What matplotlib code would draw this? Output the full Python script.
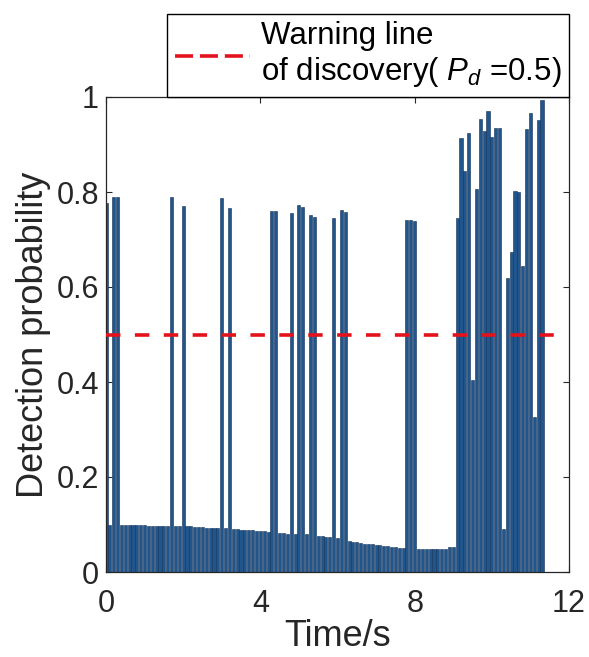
import matplotlib
matplotlib.use('Agg')
import matplotlib.pyplot as plt
from matplotlib.lines import Line2D
import numpy as np

plt.rcParams['font.family'] = ['Liberation Sans', 'DejaVu Sans']
plt.rcParams['mathtext.fontset'] = 'custom'
plt.rcParams['mathtext.it'] = 'Liberation Sans:italic'
plt.rcParams['mathtext.rm'] = 'Liberation Sans'

# detection probability per 0.1 s step, starting at t = 0
prob = [
    0.776, 0.100, 0.790, 0.790, 0.100, 0.099, 0.099, 0.099, 0.099, 0.099,
    0.098, 0.097, 0.097, 0.097, 0.097, 0.097, 0.097, 0.790, 0.097, 0.097,
    0.770, 0.096, 0.096, 0.095, 0.094, 0.094, 0.093, 0.093, 0.093, 0.093,
    0.787, 0.092, 0.767, 0.091, 0.090, 0.089, 0.089, 0.088, 0.088, 0.087,
    0.087, 0.086, 0.085, 0.760, 0.760, 0.083, 0.082, 0.081, 0.755, 0.080,
    0.773, 0.768, 0.079, 0.751, 0.748, 0.076, 0.075, 0.074, 0.073, 0.745,
    0.071, 0.762, 0.758, 0.066, 0.064, 0.063, 0.062, 0.060, 0.059, 0.058,
    0.057, 0.056, 0.055, 0.054, 0.053, 0.052, 0.051, 0.051, 0.742, 0.742,
    0.738, 0.049, 0.049, 0.049, 0.049, 0.049, 0.049, 0.049, 0.049, 0.052,
    0.052, 0.745, 0.913, 0.845, 0.925, 0.405, 0.806, 0.953, 0.929, 0.971,
    0.915, 0.935, 0.935, 0.091, 0.618, 0.674, 0.802, 0.800, 0.645, 0.933,
    0.966, 0.327, 0.951, 0.994,
]
dt = 0.1
time = np.arange(len(prob)) * dt

warn_level = 0.5
warn_span = [0, 11.7]

xticks = [0, 4, 8, 12]
yticks = [0, 0.2, 0.4, 0.6, 0.8, 1]
ytick_labels = ['0', '0.2', '0.4', '0.6', '0.8', '1']

fig = plt.figure(figsize=(5.89, 6.57), dpi=100)
ax = fig.add_axes([106 / 589, 1 - 572 / 657, 463 / 589, 475 / 657])

ax.bar(time, prob, width=0.8 * dt, color='#21568c', edgecolor='#112f58',
       linewidth=0.4, zorder=2)
ax.plot(warn_span, [warn_level, warn_level], color='#e3121b', lw=2.6,
        dashes=(4, 4), zorder=3)

ax.set_xlim(0, 12)
ax.set_ylim(0, 1)
ax.set_xticks(xticks)
ax.set_xticklabels([str(t) for t in xticks])
ax.set_yticks(yticks)
ax.set_yticklabels(ytick_labels)
ax.tick_params(direction='in', length=4, width=0.8, labelsize=22,
               colors='#262626', top=True, right=True, pad=5)
ax.tick_params(axis='x', pad=12)
for s in ax.spines.values():
    s.set_color('#262626')
    s.set_linewidth(0.9)

ax.set_xlabel('Time/s', fontsize=26, color='#262626', labelpad=0)
ax.set_ylabel('Detection probability', fontsize=26, color='#262626',
              labelpad=4)

proxy = Line2D([], [], color='#e3121b', lw=2.6, dashes=(5, 1.9))
leg = ax.legend([proxy], ['Warning line\nof discovery( $P_d$ =0.5)'],
                loc='lower right', bbox_to_anchor=(569 / 589, 1 - 97 / 657),
                bbox_transform=fig.transFigure, borderaxespad=0,
                fancybox=False, framealpha=1, edgecolor='black',
                fontsize=22.5, handlelength=2.4, handletextpad=0.35,
                borderpad=0.25, labelspacing=0)
leg.get_frame().set_linewidth(1.0)
leg.get_texts()[0].set_linespacing(1.15)

fig.savefig('out.png', dpi=100)
